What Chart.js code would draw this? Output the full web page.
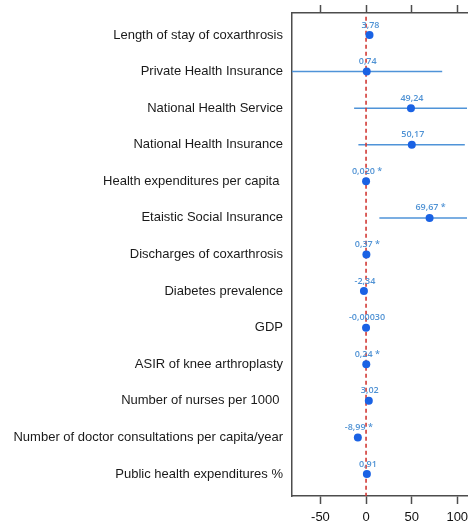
<!DOCTYPE html>
<html>
<head>
<meta charset="utf-8">
<script src="https://cdn.jsdelivr.net/npm/chart.js@4/dist/chart.umd.min.js"></script>
<style>
  html, body { margin: 0; padding: 0; background: #fff; overflow: hidden; }
  #wrap { width: 471px; height: 525px; position: relative; }
</style>
</head>
<body>
<div id="wrap"><canvas id="c"></canvas></div>
<script>
// Predictors, top to bottom
const categories = [
  "Length of stay of coxarthrosis",
  "Private Health Insurance",
  "National Health Service",
  "National Health Insurance",
  "Health expenditures per capita ",
  "Etaistic Social Insurance",
  "Discharges of coxarthrosis",
  "Diabetes prevalence",
  "GDP",
  "ASIR of knee arthroplasty",
  "Number of nurses per 1000 ",
  "Number of doctor consultations per capita/year",
  "Public health expenditures %"
];

// Coefficient estimates
const estimates = [3.78, 0.74, 49.24, 50.17, 0.020, 69.67, 0.37, -2.34, -0.00030, 0.24, 3.02, -8.99, 0.91];
// Decimals shown in each value label
const decimals = [2, 2, 2, 2, 3, 2, 2, 2, 5, 2, 2, 2, 2];
// Statistically significant estimates (marked with *)
const significant = [false, false, false, false, true, true, true, false, false, true, false, true, false];

// 95% confidence interval bounds (null where the interval is narrower than the marker)
const ciLower = [null, -95, -13.1, -8.4, null, 14.6, null, null, null, null, null, null, null];
const ciUpper = [null, 83.5, 140, 108.3, null, 150, null, null, null, null, null, null, null];

// Axis ticks
const xTicks = [-50, 0, 50, 100];
const xMin = -81.2;
const xMax = 110.7;

const AXIS_COLOR = '#4d4d4d';
const POINT_COLOR = '#1a62e4';
const CI_COLOR = '#4f93d8';
const LABEL_COLOR = '#4f92d4';
const ZERO_COLOR = '#d23a35';

const errorBars = {
  id: 'errorBars',
  beforeDatasetsDraw(chart) {
    const { ctx, chartArea, scales } = chart;
    ctx.save();
    ctx.beginPath();
    ctx.rect(chartArea.left, chartArea.top, chartArea.right - chartArea.left, chartArea.bottom - chartArea.top);
    ctx.clip();
    ctx.strokeStyle = CI_COLOR;
    ctx.lineWidth = 1.5;
    categories.forEach((_, i) => {
      if (ciLower[i] === null) return;
      const y = scales.y.getPixelForValue(i);
      ctx.beginPath();
      ctx.moveTo(scales.x.getPixelForValue(ciLower[i]), y);
      ctx.lineTo(scales.x.getPixelForValue(ciUpper[i]), y);
      ctx.stroke();
    });
    ctx.restore();
  }
};

const valueLabels = {
  id: 'valueLabels',
  afterDatasetsDraw(chart) {
    const { ctx } = chart;
    const meta = chart.getDatasetMeta(0);
    ctx.save();
    ctx.font = '600 9px "Open Sans", sans-serif';
    ctx.fillStyle = LABEL_COLOR;
    ctx.textAlign = 'center';
    ctx.textBaseline = 'middle';
    meta.data.forEach((pt, i) => {
      const txt = estimates[i].toFixed(decimals[i]).replace('.', ',') + (significant[i] ? ' *' : '');
      ctx.fillText(txt, pt.x + 1, pt.y - 10);
    });
    ctx.restore();
  }
};

const setXTicks = (scale) => { scale.ticks = xTicks.map(v => ({ value: v })); };
const noPadding = (s) => { s.paddingLeft = 0; s.paddingRight = 0; s.paddingTop = 0; s.paddingBottom = 0; };

new Chart(document.getElementById('c'), {
  type: 'scatter',
  data: {
    datasets: [
      {
        label: 'Estimate',
        data: estimates.map((v, i) => ({ x: v, y: i })),
        backgroundColor: POINT_COLOR,
        borderWidth: 0,
        pointRadius: 4,
        order: 1
      },
      {
        type: 'line',
        label: 'Zero',
        data: [{ x: 0, y: -0.5 }, { x: 0, y: 12.6 }],
        borderColor: ZERO_COLOR,
        borderWidth: 1.6,
        borderDash: [4, 3],
        pointRadius: 0,
        fill: false,
        order: 2
      }
    ]
  },
  options: {
    responsive: true,
    maintainAspectRatio: false,
    animation: false,
    layout: { padding: 0 },
    plugins: {
      legend: { display: false },
      tooltip: { enabled: false }
    },
    scales: {
      x: {
        type: 'linear',
        position: 'bottom',
        min: xMin,
        max: xMax,
        afterBuildTicks: setXTicks,
        afterFit: (s) => { s.height = 29; noPadding(s); },
        grid: { drawOnChartArea: false, drawTicks: true, tickLength: 8, tickColor: AXIS_COLOR, tickWidth: 1.5 },
        border: { display: true, color: AXIS_COLOR, width: 1.5 },
        ticks: {
          autoSkip: false,
          maxRotation: 0,
          padding: 6,
          color: '#111',
          font: { family: '"Liberation Sans", Arial, sans-serif', size: 13 },
          callback: (v) => String(v)
        }
      },
      xTop: {
        type: 'linear',
        position: 'top',
        min: xMin,
        max: xMax,
        afterBuildTicks: setXTicks,
        afterFit: (s) => { s.height = 13; noPadding(s); },
        grid: { drawOnChartArea: false, drawTicks: true, tickLength: 8, tickColor: AXIS_COLOR, tickWidth: 1.5 },
        border: { display: true, color: AXIS_COLOR, width: 1.5 },
        ticks: { display: false }
      },
      y: {
        type: 'linear',
        position: 'left',
        reverse: true,
        min: -0.6,
        max: 12.6,
        afterBuildTicks: (s) => { s.ticks = categories.map((_, i) => ({ value: i })); },
        afterFit: (s) => { s.width = 292; noPadding(s); },
        grid: { drawOnChartArea: false, drawTicks: false },
        border: { display: true, color: AXIS_COLOR, width: 1.5 },
        ticks: {
          autoSkip: false,
          padding: 9,
          color: '#1a1a1a',
          font: { family: '"Liberation Sans", Arial, sans-serif', size: 13 },
          callback: (v) => categories[v]
        }
      }
    }
  },
  plugins: [errorBars, valueLabels]
});
</script>
</body>
</html>
